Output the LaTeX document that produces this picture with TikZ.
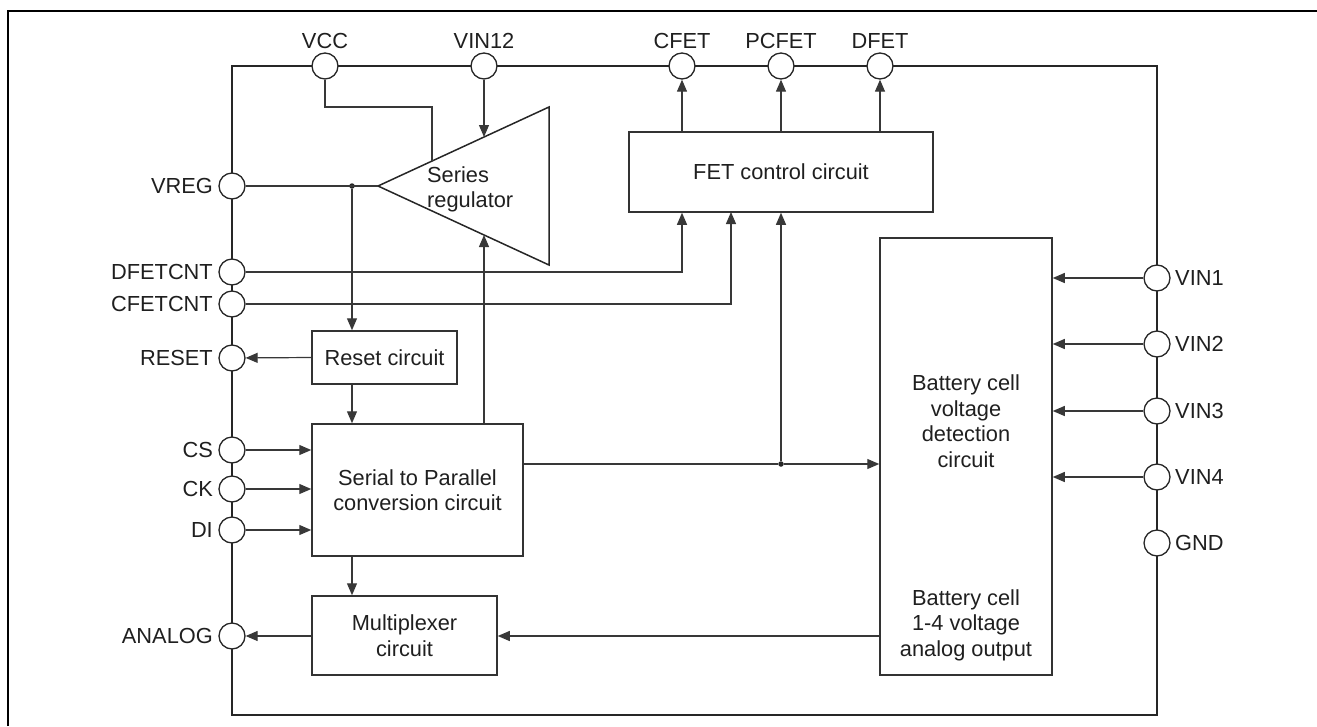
\documentclass[tikz,border=0pt]{standalone}
\usepackage{fontspec}
\setmainfont{Liberation Sans}
\usetikzlibrary{arrows.meta}
\begin{document}
\begin{tikzpicture}[x=1pt,y=-1pt,
  conn/.style={draw=black!78, line width=1.2pt},
  arr/.style={conn,-{Triangle[length=12pt,width=10pt]}},
  pinc/.style={circle,draw=black!85,fill=white,line width=1.3pt,minimum size=26pt,inner sep=0pt},
  blk/.style={draw=black!80,line width=1.5pt,inner sep=0pt,align=center,text=black!88,font=\fontsize{21.8}{25.5}\selectfont},
  lbl/.style={font=\fontsize{21.8}{25.5}\selectfont,text=black!88,inner sep=0pt},
  jdot/.style={circle,fill=black!85,inner sep=0pt,minimum size=5.5pt}]
\useasboundingbox (0,0) rectangle (1317,726);
% outer frame
\draw[line width=2pt,black] (7.5,726) -- (7.5,11) -- (1317,11);
% chip outline
\draw[line width=2.5pt,draw=black!85] (232,66) rectangle (1157,715);

% blocks
\node[blk,minimum width=304pt,minimum height=80pt] (fet) at (781,172) {FET control circuit};
\node[blk,minimum width=145pt,minimum height=53pt] (reset) at (384.5,357.5) {Reset circuit};
\node[blk,minimum width=211pt,minimum height=132pt] (serial) at (417.5,490) {Serial to Parallel\\conversion circuit};
\node[blk,minimum width=185pt,minimum height=79pt] (mux) at (404.5,635.5) {Multiplexer\\circuit};
\node[blk,minimum width=172pt,minimum height=437pt] (batt) at (966,456.5) {};
\node[lbl,align=center] (btxt1) at (966,421) {Battery cell\\voltage\\detection\\circuit};
\node[lbl,align=center] (btxt2) at (966,625) {Battery cell\\1-4 voltage\\analog output};

% series regulator triangle
\coordinate (apex) at (378,186);
\coordinate (rtop) at (549,107);
\coordinate (rbot) at (549,265);
\draw[line width=1.5pt,draw=black!85] (apex) -- (rtop) -- (rbot) -- cycle;
\node[lbl,align=left,anchor=north west] (regtxt) at (427,166) {Series\\regulator};
\coordinate (regin) at (484,137);
\coordinate (regvcc) at (432,161);
\coordinate (regbot) at (484,235);

% pins
\foreach \n/\x/\t in {vcc/325/VCC, vin12/484/VIN12, cfet/682/CFET, pcfet/781/PCFET, dfet/880/DFET}{
  \node[pinc] (\n) at (\x,66) {};
  \node[lbl,anchor=base] (\n-l) at (\x,48) {\t};
}
\foreach \n/\y/\t in {vreg/186/VREG, dfetcnt/272/DFETCNT, cfetcnt/304/CFETCNT, rst/358/RESET, cs/450/CS, ck/489/CK, di/530/DI, analog/636/ANALOG}{
  \node[pinc] (\n) at (232,\y) {};
  \node[lbl,anchor=base east] (\n-l) at (213,\y+7.7) {\t};
}
\foreach \n/\y/\t in {vin1/278/VIN1, vin2/344/VIN2, vin3/411/VIN3, vin4/477/VIN4, gnd/543/GND}{
  \node[pinc] (\n) at (1157,\y) {};
  \node[lbl,anchor=base west] (\n-l) at (1175,\y+7.7) {\t};
}

% junctions
\node[jdot] (jv) at (352,186) {};
\node[jdot] (jb) at (781,464) {};
\coordinate (fin2) at (731,212);

% connectors
\draw[arr] (vin12) -- (regin);
\draw[conn] (vcc.south) |- (432,107) -- (regvcc);
\draw[conn] (vreg) -- (apex);
\draw[arr] (jv) -- (jv |- reset.north);
\draw[arr] (reset.west) -- (rst);
\draw[arr] (reset.south -| jv) -- (serial.north -| jv);
\draw[arr] (serial.north -| regbot) -- (regbot);
\draw[arr] (dfetcnt) -| (fet.south -| cfet);
\draw[arr] (cfetcnt) -| (fin2);
\draw[conn] (serial.east |- jb) -- (jb);
\draw[arr] (jb) -- (batt.west |- jb);
\draw[arr] (jb) -- (fet.south);
\draw[arr] (fet.north -| cfet) -- (cfet);
\draw[arr] (fet.north -| pcfet) -- (pcfet);
\draw[arr] (fet.north -| dfet) -- (dfet);
\draw[arr] (cs) -- (cs -| serial.west);
\draw[arr] (ck) -- (ck -| serial.west);
\draw[arr] (di) -- (di -| serial.west);
\draw[arr] (serial.south -| jv) -- (mux.north -| jv);
\draw[arr] (mux.west |- analog) -- (analog);
\draw[arr] (batt.west |- analog) -- (mux.east |- analog);
\draw[arr] (vin1) -- (vin1 -| batt.east);
\draw[arr] (vin2) -- (vin2 -| batt.east);
\draw[arr] (vin3) -- (vin3 -| batt.east);
\draw[arr] (vin4) -- (vin4 -| batt.east);
\end{tikzpicture}
\end{document}
